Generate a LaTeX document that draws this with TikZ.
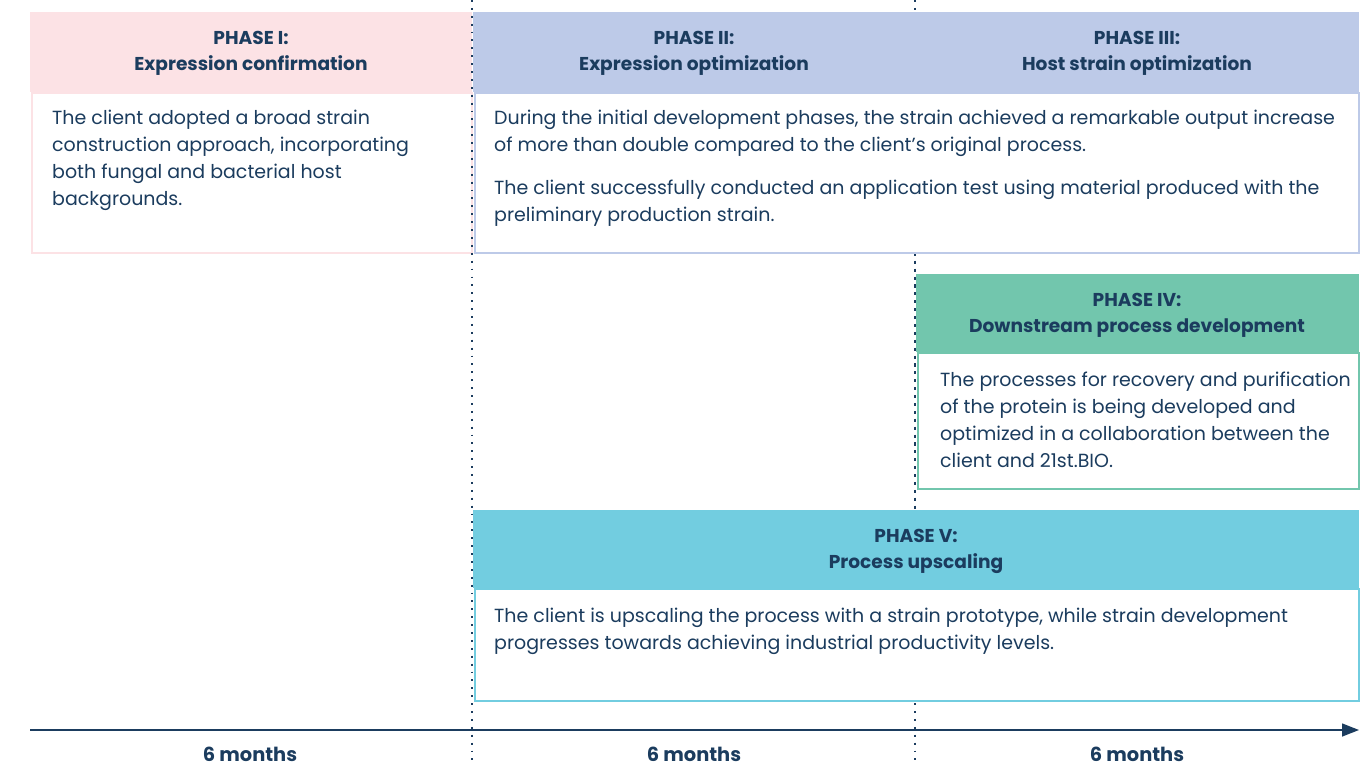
\documentclass[tikz,border=0pt]{standalone}
\usepackage{fontspec}
\setmainfont{Poppins}
\usetikzlibrary{arrows.meta}
\definecolor{navy}{HTML}{1B3C5E}
\definecolor{pinkfill}{HTML}{FCE2E5}
\definecolor{bluefill}{HTML}{BDCAE8}
\definecolor{greenfill}{HTML}{72C6AD}
\definecolor{cyanfill}{HTML}{72CDE0}
\tikzset{
  hdr/.style={rectangle, anchor=north west, inner sep=0pt, minimum height=80pt},
  bodybox/.style={rectangle, anchor=north west, inner sep=0pt, fill=white, line width=2pt},
  ttl/.style={align=center, text=navy, inner sep=0pt, font=\fontsize{18.6}{26}\selectfont\bfseries},
  txt/.style={align=left, anchor=north west, text=navy, inner sep=0pt, font=\fontsize{19}{27}\selectfont},
  months/.style={anchor=base, text=navy, inner sep=0pt, font=\fontsize{19.4}{22}\selectfont\bfseries},
  guide/.style={navy, line width=1.9pt, dash pattern=on 1.9pt off 6pt},
  axis/.style={navy, line width=1.4pt, -{Triangle[length=17pt,width=13pt]}}
}
\begin{document}
\begin{tikzpicture}[x=1pt,y=-1pt]
\useasboundingbox (0,0) rectangle (1369,765);

% period separators
\coordinate (g1t) at (472,0);   \coordinate (g1b) at (472,765);
\coordinate (g2t) at (915,0);   \coordinate (g2b) at (915,765);
\draw[guide] (g2t) -- (g2b);

% Phase I
\node[bodybox, draw=pinkfill, minimum width=440pt, minimum height=160pt] (b1) at (31,92) {};
\node[hdr, fill=pinkfill, minimum width=442pt] (h1) at (30,12) {};
\node[ttl] (t1) at (251,53) {PHASE I:\\Expression confirmation};
\node[txt] (p1) at (52,110) {The client adopted a broad strain\\construction approach, incorporating\\both fungal and bacterial host\\backgrounds.};

% Phases II and III
\node[bodybox, draw=bluefill, minimum width=884pt, minimum height=160pt] (b2) at (474,92) {};
\node[hdr, fill=bluefill, minimum width=886pt] (h2) at (473,12) {};
\node[ttl] (t2) at (694,53) {PHASE II:\\Expression optimization};
\node[ttl] (t3) at (1137,53) {PHASE III:\\Host strain optimization};
\node[txt] (p2) at (494,110) {During the initial development phases, the strain achieved a remarkable output increase\\of more than double compared to the client’s original process.};
\node[txt] (p3) at (494,180) {The client successfully conducted an application test using material produced with the\\preliminary production strain.};

% Phase IV
\node[bodybox, draw=greenfill, minimum width=441pt, minimum height=136pt] (b4) at (917,352) {};
\node[hdr, fill=greenfill, minimum width=443pt, minimum height=78pt] (h4) at (916,274) {};
\node[ttl] (t4) at (1137,315) {PHASE IV:\\Downstream process development};
\node[txt] (p4) at (940,372) {The processes for recovery and purification\\of the protein is being developed and\\optimized in a collaboration between the\\client and 21st.BIO.};

% Phase V
\node[bodybox, draw=cyanfill, minimum width=884pt, minimum height=112pt] (b5) at (474,588) {};
\node[hdr, fill=cyanfill, minimum width=886pt, minimum height=78pt] (h5) at (473,510) {};
\node[ttl] (t5) at (916,551) {PHASE V:\\Process upscaling};
\node[txt] (p5) at (494,608) {The client is upscaling the process with a strain prototype, while strain development\\progresses towards achieving industrial productivity levels.};

% separators drawn over the boxes where they show
\draw[guide] (g1t) -- (g1b);
\draw[guide] (b2.south west -| g2t) -- (h5.north west -| g2t);

% time axis
\coordinate (ax0) at (30,730);
\coordinate (ax1) at (1359,730);
\draw[axis] (ax0) -- (ax1);
\node[months] (m1) at (250,761) {6 months};
\node[months] (m2) at (694,761) {6 months};
\node[months] (m3) at (1137,761) {6 months};
\end{tikzpicture}
\end{document}
